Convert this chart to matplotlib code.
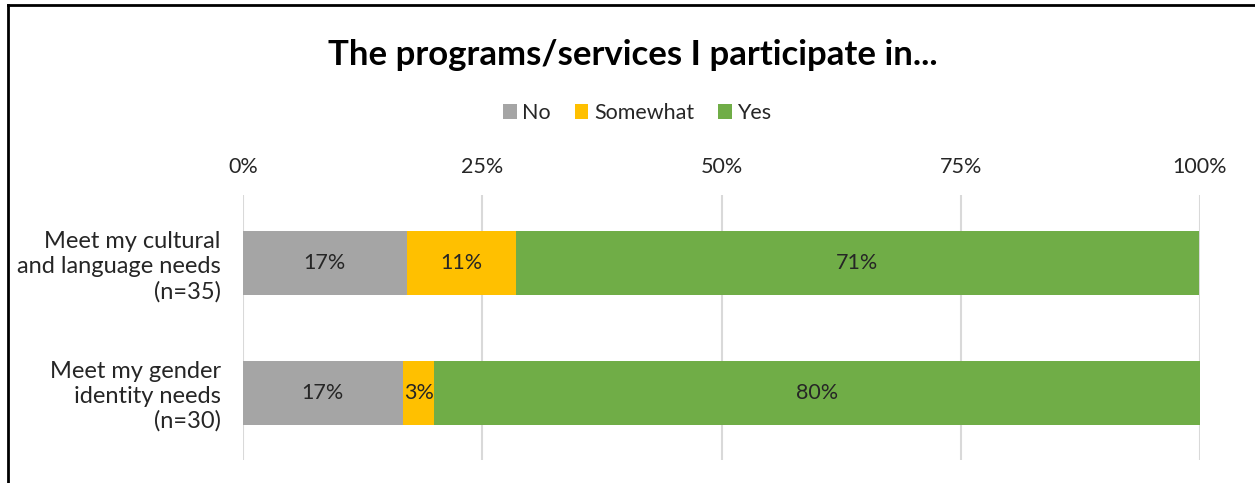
import matplotlib.pyplot as plt
from matplotlib.lines import Line2D
from matplotlib.patches import Patch

plt.rcParams['font.family'] = ['Lato', 'DejaVu Sans']

categories = ['Meet my cultural\nand language needs\n(n=35)',
              'Meet my gender\nidentity needs\n(n=30)']
series = ['No', 'Somewhat', 'Yes']
no = [17.1, 16.7]
somewhat = [11.4, 3.3]
yes = [71.4, 80.0]
colors = ['#A5A5A5', '#FFC000', '#70AD47']
ticks = [0, 25, 50, 75, 100]

fig = plt.figure(figsize=(12.55, 4.83), dpi=100)
ax = fig.add_axes([243 / 1255, 23 / 483, 957 / 1255, 265 / 483])

ypos = list(range(len(categories)))
left = [0.0] * len(categories)
for vals, col, name in zip([no, somewhat, yes], colors, series):
    bars = ax.barh(ypos, vals, left=left, height=0.494, color=col,
                   label=name, zorder=3)
    for b, v in zip(bars, vals):
        ax.text(b.get_x() + b.get_width() / 2, b.get_y() + b.get_height() / 2,
                f'{v:.0f}%', ha='center', va='center', fontsize=15.5,
                color='#262626', zorder=4)
    left = [l + v for l, v in zip(left, vals)]

ax.set_xlim(0, 100)
ax.set_ylim(1.521, -0.525)
ax.set_xticks(ticks)
ax.set_xticklabels([f'{t}%' for t in ticks])
ax.xaxis.tick_top()
ax.tick_params(axis='x', length=0, pad=13, labelsize=15.5, labelcolor='#262626')
ax.set_yticks(ypos)
ax.set_yticklabels(categories, fontsize=17, color='#262626',
                   linespacing=1.21)
ax.tick_params(axis='y', length=0, pad=16)
ax.grid(axis='x', color='#D9D9D9', linewidth=1.5, zorder=0)
for s in ax.spines.values():
    s.set_visible(False)

fig.text(633 / 1255, 1 - 55 / 483, 'The programs/services I participate in...',
         ha='center', va='center', fontsize=25, fontweight='bold')

handles = [Patch(facecolor=c, label=n) for c, n in zip(colors, series)]
fig.legend(handles=handles, loc='center', bbox_to_anchor=(637 / 1255, 1 - 113 / 483),
           ncol=3, frameon=False, fontsize=15.5, handlelength=0.65, handleheight=0.65,
           handletextpad=0.25, columnspacing=1.1, labelcolor='#262626')

# frame lines along the top and left edges
fig.add_artist(Line2D([8 / 1255, 1], [1 - 5 / 483, 1 - 5 / 483],
                      transform=fig.transFigure, color='black', linewidth=2))
fig.add_artist(Line2D([8 / 1255, 8 / 1255], [0, 1 - 5 / 483],
                      transform=fig.transFigure, color='black', linewidth=2))

fig.savefig('out.png', dpi=100)
